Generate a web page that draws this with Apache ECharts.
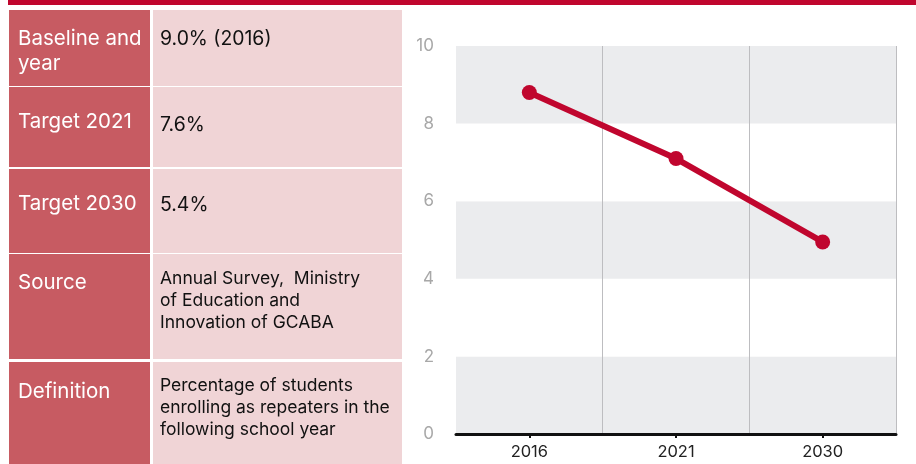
<!DOCTYPE html>
<html>
<head>
<meta charset="utf-8">
<script src="https://cdn.jsdelivr.net/npm/echarts@6/dist/echarts.min.js"></script>
<style>
  html, body { margin: 0; padding: 0; background: #fff; }
  #chart { width: 916px; height: 464px; }
</style>
</head>
<body>
<div id="chart"></div>
<script>
// data
const years = ['2016', '2021', '2030'];
const repeaterRate = [8.8, 7.1, 4.95];
const tableLabels = ['Baseline and\nyear', 'Target 2021', 'Target 2030', 'Source', 'Definition'];
const tableValues = [
  '9.0% (2016)',
  '7.6%',
  '5.4%',
  'Annual Survey,  Ministry\nof Education and\nInnovation of GCABA',
  'Percentage of students\nenrolling as repeaters in the\nfollowing school year'
];

// table layout (px)
const rowTop = [10, 87, 169, 254, 362];
const rowBottom = [86, 167, 253, 359, 464];
const labelCenter = [39, 122, 204, 283, 392];
const valueCenter = [39, 125, 205, 279, 386];

const RED = '#c0062e';
const FONT = 'Inter, "Noto Sans", sans-serif';

const graphics = [
  { type: 'rect', shape: { x: 8, y: 0, width: 908, height: 5 }, style: { fill: RED } }
];

tableLabels.forEach((label, i) => {
  const h = rowBottom[i] - rowTop[i];
  graphics.push({ type: 'rect', shape: { x: 9, y: rowTop[i], width: 141, height: h }, style: { fill: '#c75b62' } });
  graphics.push({ type: 'rect', shape: { x: 153, y: rowTop[i], width: 249, height: h }, style: { fill: '#f0d4d6' } });
  graphics.push({
    type: 'text',
    style: {
      text: label, x: 18, y: labelCenter[i] - 12.5, fill: '#fff',
      fontSize: 20.5, fontFamily: FONT, lineHeight: 25, verticalAlign: 'top'
    }
  });
  const small = i >= 3;
  const lh = small ? 22 : 25;
  graphics.push({
    type: 'text',
    style: {
      text: tableValues[i], x: 160, y: valueCenter[i] - lh / 2, fill: '#111',
      fontSize: small ? 17.5 : 19.4, fontFamily: FONT, lineHeight: lh, verticalAlign: 'top'
    }
  });
});

const chart = echarts.init(document.getElementById('chart'));
chart.setOption({
  animation: false,
  graphic: graphics,
  grid: { left: 456, right: 20, top: 46, bottom: 30, containLabel: false },
  xAxis: {
    type: 'category',
    data: years,
    boundaryGap: true,
    axisLine: { lineStyle: { color: '#111', width: 3 } },
    axisTick: { show: true, alignWithLabel: true, length: 4, lineStyle: { color: '#111', width: 2 } },
    axisLabel: { color: '#222', fontSize: 16.5, fontFamily: FONT, margin: 10 },
    splitLine: { show: true, interval: (i) => i > 0, lineStyle: { color: '#bdbdc0', width: 1 } }
  },
  yAxis: {
    type: 'value',
    min: 0,
    max: 10,
    interval: 2,
    axisLine: { show: false },
    axisTick: { show: false },
    axisLabel: { color: '#a8a8a8', fontSize: 17, fontFamily: FONT, margin: 22 },
    splitLine: { show: false },
    splitArea: { show: true, areaStyle: { color: ['#ebecee', '#ffffff'] } }
  },
  series: [{
    type: 'line',
    data: repeaterRate,
    symbol: 'circle',
    symbolSize: 15,
    lineStyle: { color: RED, width: 6 },
    itemStyle: { color: RED }
  }]
});
</script>
</body>
</html>
